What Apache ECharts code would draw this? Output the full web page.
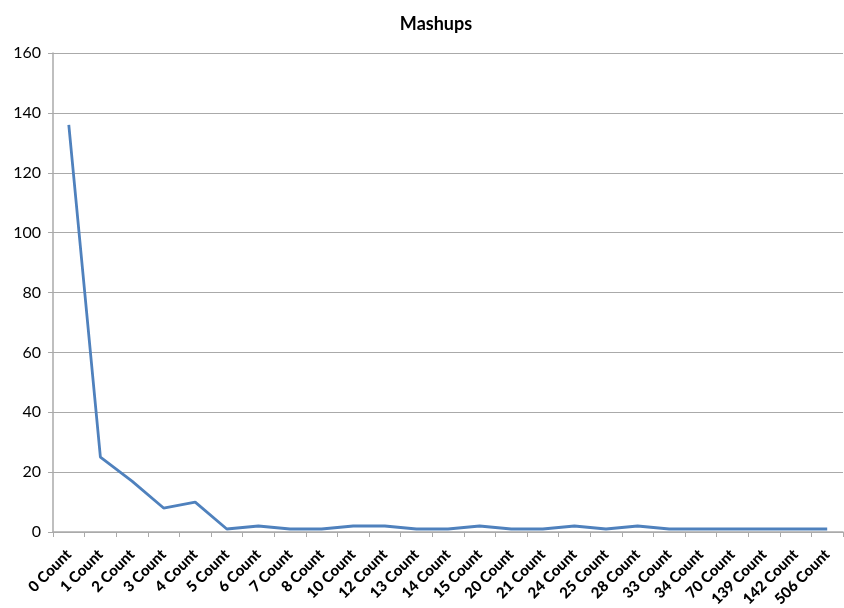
<!DOCTYPE html>
<html><head><meta charset="utf-8">
<script src="https://cdn.jsdelivr.net/npm/echarts@6/dist/echarts.min.js"></script>
<style>html,body{margin:0;padding:0;background:#fff}#c{width:844px;height:608px}</style>
</head><body><div id="c"></div>
<script>
const categories = ["0 Count","1 Count","2 Count","3 Count","4 Count","5 Count","6 Count","7 Count","8 Count","10 Count","12 Count","13 Count","14 Count","15 Count","20 Count","21 Count","24 Count","25 Count","28 Count","33 Count","34 Count","70 Count","139 Count","142 Count","506 Count"];
const mashups = [136,25,17,8,10,1,2,1,1,2,2,1,1,2,1,1,2,1,2,1,1,1,1,1,1];
const yTicks = {min:0, max:160, interval:20};

const chart = echarts.init(document.getElementById('c'));
chart.setOption({
  animation:false,
  title:{text:'Mashups', left:431, top:10, textAlign:'center',
    textStyle:{fontFamily:'Lato, "Open Sans", sans-serif', fontWeight:'bold', fontSize:18, color:'#000'}},
  grid:{left:53, right:1, top:53, bottom:76, outerBoundsMode:'none', containLabel:false},
  xAxis:{type:'category', data:categories, boundaryGap:true,
    axisLine:{lineStyle:{color:'#aaaaaa', width:1.5}},
    axisTick:{show:true, length:5, lineStyle:{color:'#aaaaaa', width:1}},
    axisLabel:{rotate:45, interval:0, margin:20, fontFamily:'Lato, "Open Sans", sans-serif', fontWeight:900, fontSize:15, color:'#000'}},
  yAxis:{type:'value', min:yTicks.min, max:yTicks.max, interval:yTicks.interval,
    axisLine:{show:true, lineStyle:{color:'#aaaaaa', width:1.5}},
    axisTick:{show:true, length:5, lineStyle:{color:'#aaaaaa'}},
    splitLine:{lineStyle:{color:'#aaaaaa', width:1}},
    axisLabel:{margin:12, fontFamily:'Lato, "Open Sans", sans-serif', fontSize:16, color:'#000'}},
  series:[{type:'line', data:mashups, showSymbol:false, symbol:'none',
    lineStyle:{color:'#4f81bd', width:2.8}}]
});
</script></body></html>
